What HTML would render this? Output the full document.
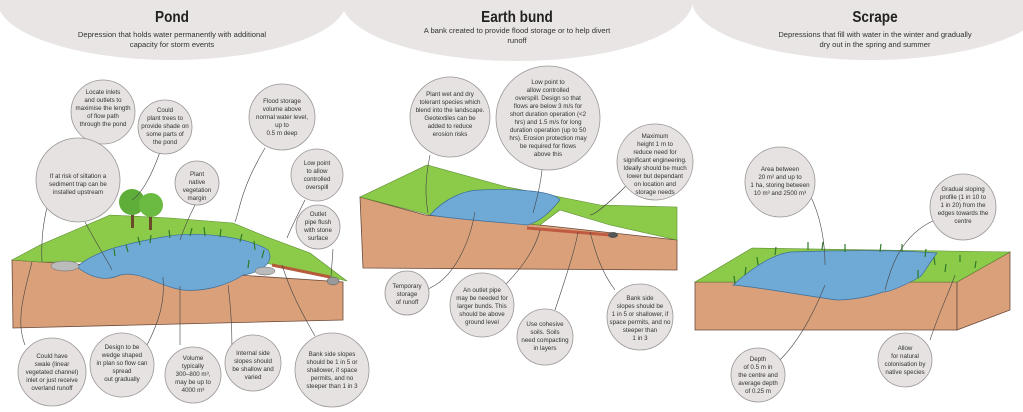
<!DOCTYPE html>
<html><head><meta charset="utf-8"><style>
html,body{margin:0;padding:0;background:#fff;width:1023px;height:412px;overflow:hidden}
svg{display:block}
.c{fill:#e5e2e1;stroke:#9a9696;stroke-width:0.8}
.t{font-family:"Liberation Sans",sans-serif;font-size:6.2px;fill:#333;text-anchor:middle}
.h{font-family:"Liberation Sans",sans-serif;font-weight:bold;font-size:16px;fill:#222;text-anchor:middle}
.s{font-family:"Liberation Sans",sans-serif;font-size:7.6px;fill:#333;text-anchor:middle}
.l{fill:none;stroke:#444;stroke-width:0.6}
.soil{fill:#d9a07a;stroke:#6b4a3a;stroke-width:0.8}
.grass{fill:#8ccb4a;stroke:#5c8a30;stroke-width:0.6}
.water{fill:#6fa9d6;stroke:#3c6e9a;stroke-width:0.7}
.reed{stroke:#2f7a2a;stroke-width:1.2;fill:none}
</style></head><body>
<svg width="1023" height="412" viewBox="0 0 1023 412" xmlns="http://www.w3.org/2000/svg">
<rect x="0" y="0" width="1023" height="3" fill="#bdbab9"/>
<ellipse cx="172" cy="0" rx="175" ry="60" fill="#e8e5e4"/>
<ellipse cx="517" cy="0" rx="176" ry="61" fill="#e8e5e4"/>
<ellipse cx="870" cy="0" rx="178" ry="60" fill="#e8e5e4"/>
<g transform="translate(172,22) scale(0.85,1)"><text class="h" x="0" y="0">Pond</text></g>
<text class="s" x="172" y="37">Depression that holds water permanently with additional</text>
<text class="s" x="172" y="47">capacity for storm events</text>
<g transform="translate(517,22) scale(0.85,1)"><text class="h" x="0" y="0">Earth bund</text></g>
<text class="s" x="517" y="33">A bank created to provide flood storage or to help divert</text>
<text class="s" x="517" y="43">runoff</text>
<g transform="translate(875,22) scale(0.85,1)"><text class="h" x="0" y="0">Scrape</text></g>
<text class="s" x="875" y="37">Depressions that fill with water in the winter and gradually</text>
<text class="s" x="875" y="47">dry out in the spring and summer</text>

<!-- POND block -->
<polygon class="soil" points="12,260 343,282 343,320 13,328"/>
<polygon class="grass" points="12,260 40,245 110,215 170,218 233,223 267,237 310,253 347,281 300,270 260,262 100,262 40,262"/>
<path class="water" d="M77,267 C95,250 130,243 163,237 C200,230 250,238 268,250 C275,262 262,272 243,275 C228,285 205,292 183,290 C160,287 140,270 120,275 C105,282 90,277 77,267 Z"/>
<g class="reed">
<path d="M140,245 l-2,-8 M150,243 l1,-8 M170,238 l-1,-8 M190,236 l2,-8 M205,236 l-1,-9 M220,237 l1,-8 M240,242 l2,-8 M255,250 l-1,-9 M262,258 l2,-8 M248,268 l1,-8 M128,252 l-2,-7 M115,256 l-1,-7"/>
</g>
<ellipse cx="65" cy="266" rx="14" ry="5" fill="#bbb" stroke="#666" stroke-width="0.5"/>
<ellipse cx="265" cy="271" rx="10" ry="4" fill="#bbb" stroke="#666" stroke-width="0.5"/>
<ellipse cx="333" cy="281" rx="6" ry="4" fill="#999" stroke="#555" stroke-width="0.5"/>
<line x1="272" y1="265" x2="330" y2="277" stroke="#b55a3a" stroke-width="3"/>
<rect x="131" y="212" width="3" height="16" fill="#6b4a2a"/><rect x="149" y="214" width="3" height="16" fill="#6b4a2a"/>
<circle cx="132" cy="202" r="13" fill="#5fae3a"/><circle cx="151" cy="205" r="12" fill="#6bbb42"/>

<!-- EARTH BUND -->
<polygon class="soil" points="360,197 425,215 540,225 677,240 677,270 363,268"/>
<polygon class="grass" points="360,197 427,165 507,187 560,197 600,205 677,207 677,240 610,225 560,210 540,225 430,215"/>
<path class="water" d="M430,215 C445,198 465,190 480,190 C520,188 555,192 560,200 C550,212 540,222 527,225 C500,222 460,220 430,215 Z"/>
<line x1="527" y1="228" x2="610" y2="235" stroke="#c05a40" stroke-width="3"/>
<ellipse cx="613" cy="235" rx="5" ry="3" fill="#555"/>

<!-- SCRAPE -->
<polygon class="soil" points="695,282 957,282 957,330 695,330"/>
<polygon class="soil" points="957,282 1010,252 1010,310 957,330" fill="#cf9470"/>
<polygon class="grass" points="695,282 752,248 1010,252 957,282"/>
<path class="water" d="M733,285 C750,270 770,255 790,252 C840,250 900,250 937,253 C930,262 925,272 920,277 C905,285 890,292 883,292 C860,300 840,300 837,300 C800,295 765,288 733,285 Z"/>
<g class="reed">
<path d="M735,284 l-1,-8 M745,275 l1,-8 M758,265 l-1,-8 M775,255 l1,-8 M808,250 l0,-8 M822,250 l1,-8 M845,252 l0,-8 M880,252 l1,-8 M902,252 l0,-8 M925,257 l1,-8 M935,265 l-1,-8 M945,272 l1,-8 M960,262 l0,-7 M975,268 l1,-7 M918,278 l0,-8"/>
</g>

<!-- leader lines -->
<g class="l">
<path d="M80,140 C50,180 40,220 42,262"/>
<path d="M160,152 C150,180 140,195 132,200"/>
<path d="M265,148 C240,190 240,210 235,222"/>
<path d="M85,222 C100,250 110,265 112,270"/>
<path d="M195,205 C190,215 185,225 180,240"/>
<path d="M305,200 C295,220 290,230 287,238"/>
<path d="M333,249 L331,277"/>
<path d="M25,345 C15,320 25,290 32,262"/>
<path d="M147,345 C160,320 165,300 163,277"/>
<path d="M180,345 C180,320 180,300 180,286"/>
<path d="M232,350 C232,320 230,300 228,285"/>
<path d="M315,336 C300,310 290,290 282,265"/>
<path d="M430,155 C425,180 425,195 428,213"/>
<path d="M542,170 C540,190 535,205 533,213"/>
<path d="M630,182 C612,200 595,215 590,215"/>
<path d="M425,290 C455,280 470,240 475,212"/>
<path d="M505,285 C520,270 535,250 540,230"/>
<path d="M555,310 C565,280 575,250 578,232"/>
<path d="M615,290 C600,270 595,250 590,232"/>
<path d="M810,195 C820,215 825,240 825,265"/>
<path d="M935,220 C900,235 890,270 885,290"/>
<path d="M780,360 C800,340 815,310 825,285"/>
<path d="M930,340 C940,310 950,290 955,275"/>
</g>

<!-- circles -->
<circle class="c" cx="103" cy="112" r="32"/>
<text class="t"><tspan x="103" y="94">Locate inlets</tspan><tspan x="103" y="102">and outlets to</tspan><tspan x="103" y="110">maximise the length</tspan><tspan x="103" y="118">of flow path</tspan><tspan x="103" y="126">through the pond</tspan></text>
<circle class="c" cx="165" cy="127" r="27"/>
<text class="t"><tspan x="165" y="112">Could</tspan><tspan x="165" y="120">plant trees to</tspan><tspan x="165" y="128">provide shade on</tspan><tspan x="165" y="136">some parts of</tspan><tspan x="165" y="144">the pond</tspan></text>
<circle class="c" cx="282" cy="117" r="33"/>
<text class="t"><tspan x="282" y="103">Flood storage</tspan><tspan x="282" y="111">volume above</tspan><tspan x="282" y="119">normal water level,</tspan><tspan x="282" y="127">up to</tspan><tspan x="282" y="135">0.5 m deep</tspan></text>
<circle class="c" cx="78" cy="180" r="42"/>
<text class="t"><tspan x="78" y="178">If at risk of siltation a</tspan><tspan x="78" y="186">sediment trap can be</tspan><tspan x="78" y="194">installed upstream</tspan></text>
<circle class="c" cx="197" cy="183" r="22"/>
<text class="t"><tspan x="197" y="176">Plant</tspan><tspan x="197" y="184">native</tspan><tspan x="197" y="192">vegetation</tspan><tspan x="197" y="200">margin</tspan></text>
<circle class="c" cx="317" cy="175" r="26"/>
<text class="t"><tspan x="317" y="165">Low point</tspan><tspan x="317" y="173">to allow</tspan><tspan x="317" y="181">controlled</tspan><tspan x="317" y="189">overspill</tspan></text>
<circle class="c" cx="318" cy="227" r="22"/>
<text class="t"><tspan x="318" y="216">Outlet</tspan><tspan x="318" y="224">pipe flush</tspan><tspan x="318" y="232">with stone</tspan><tspan x="318" y="240">surface</tspan></text>
<circle class="c" cx="52" cy="372" r="34"/>
<text class="t"><tspan x="52" y="358">Could have</tspan><tspan x="52" y="366">swale (linear</tspan><tspan x="52" y="374">vegetated channel)</tspan><tspan x="52" y="382">inlet or just receive</tspan><tspan x="52" y="390">overland runoff</tspan></text>
<circle class="c" cx="122" cy="365" r="32"/>
<text class="t"><tspan x="122" y="349">Design to be</tspan><tspan x="122" y="357">wedge shaped</tspan><tspan x="122" y="365">in plan so flow can</tspan><tspan x="122" y="373">spread</tspan><tspan x="122" y="381">out gradually</tspan></text>
<circle class="c" cx="193" cy="375" r="28"/>
<text class="t"><tspan x="193" y="360">Volume</tspan><tspan x="193" y="368">typically</tspan><tspan x="193" y="376">300–800 m³,</tspan><tspan x="193" y="384">may be up to</tspan><tspan x="193" y="392">4000 m³</tspan></text>
<circle class="c" cx="253" cy="363" r="28"/>
<text class="t"><tspan x="253" y="355">Internal side</tspan><tspan x="253" y="363">slopes should</tspan><tspan x="253" y="371">be shallow and</tspan><tspan x="253" y="379">varied</tspan></text>
<circle class="c" cx="332" cy="370" r="37"/>
<text class="t"><tspan x="332" y="356">Bank side slopes</tspan><tspan x="332" y="364">should be 1 in 5 or</tspan><tspan x="332" y="372">shallower, if space</tspan><tspan x="332" y="380">permits, and no</tspan><tspan x="332" y="388">steeper than 1 in 3</tspan></text>

<circle class="c" cx="450" cy="117" r="40"/>
<text class="t"><tspan x="450" y="96">Plant wet and dry</tspan><tspan x="450" y="104">tolerant species which</tspan><tspan x="450" y="112">blend into the landscape.</tspan><tspan x="450" y="120">Geotextiles can be</tspan><tspan x="450" y="128">added to reduce</tspan><tspan x="450" y="136">erosion risks</tspan></text>
<circle class="c" cx="548" cy="118" r="52"/>
<text class="t"><tspan x="548" y="84">Low point to</tspan><tspan x="548" y="92">allow controlled</tspan><tspan x="548" y="100">overspill. Design so that</tspan><tspan x="548" y="108">flows are below 3 m/s for</tspan><tspan x="548" y="116">short duration operation (&lt;2</tspan><tspan x="548" y="124">hrs) and 1.5 m/s for long</tspan><tspan x="548" y="132">duration operation (up to 50</tspan><tspan x="548" y="140">hrs). Erosion protection may</tspan><tspan x="548" y="148">be required for flows</tspan><tspan x="548" y="156">above this</tspan></text>
<circle class="c" cx="655" cy="162" r="38"/>
<text class="t"><tspan x="655" y="138">Maximum</tspan><tspan x="655" y="146">height 1  m to</tspan><tspan x="655" y="154">reduce need for</tspan><tspan x="655" y="162">significant engineering.</tspan><tspan x="655" y="170">Ideally should be much</tspan><tspan x="655" y="178">lower but dependant</tspan><tspan x="655" y="186">on location and</tspan><tspan x="655" y="194">storage needs</tspan></text>
<circle class="c" cx="407" cy="293" r="22"/>
<text class="t"><tspan x="407" y="288">Temporary</tspan><tspan x="407" y="296">storage</tspan><tspan x="407" y="304">of runoff</tspan></text>
<circle class="c" cx="482" cy="305" r="32"/>
<text class="t"><tspan x="482" y="292">An outlet pipe</tspan><tspan x="482" y="300">may be needed for</tspan><tspan x="482" y="308">larger bunds. This</tspan><tspan x="482" y="316">should be above</tspan><tspan x="482" y="324">ground level</tspan></text>
<circle class="c" cx="545" cy="337" r="28"/>
<text class="t"><tspan x="545" y="326">Use cohesive</tspan><tspan x="545" y="334">soils. Soils</tspan><tspan x="545" y="342">need compacting</tspan><tspan x="545" y="350">in layers</tspan></text>
<circle class="c" cx="640" cy="317" r="33"/>
<text class="t"><tspan x="640" y="300">Bank side</tspan><tspan x="640" y="308">slopes should be</tspan><tspan x="640" y="316">1 in 5 or shallower, if</tspan><tspan x="640" y="324">space permits, and no</tspan><tspan x="640" y="332">steeper than</tspan><tspan x="640" y="340">1 in 3</tspan></text>

<circle class="c" cx="780" cy="182" r="35"/>
<text class="t"><tspan x="780" y="171">Area between</tspan><tspan x="780" y="179">20 m² and up to</tspan><tspan x="780" y="187">1 ha, storing between</tspan><tspan x="780" y="195">10 m³ and 2500 m³</tspan></text>
<circle class="c" cx="963" cy="207" r="33"/>
<text class="t"><tspan x="963" y="191">Gradual sloping</tspan><tspan x="963" y="199">profile (1 in 10 to</tspan><tspan x="963" y="207">1 in 20) from the</tspan><tspan x="963" y="215">edges towards the</tspan><tspan x="963" y="223">centre</tspan></text>
<circle class="c" cx="758" cy="375" r="27"/>
<text class="t"><tspan x="758" y="361">Depth</tspan><tspan x="758" y="369">of 0.5 m in</tspan><tspan x="758" y="377">the centre and</tspan><tspan x="758" y="385">average depth</tspan><tspan x="758" y="393">of 0.25 m</tspan></text>
<circle class="c" cx="905" cy="360" r="27"/>
<text class="t"><tspan x="905" y="350">Allow</tspan><tspan x="905" y="358">for natural</tspan><tspan x="905" y="366">colonisation by</tspan><tspan x="905" y="374">native species</tspan></text>
</svg>
</body></html>
